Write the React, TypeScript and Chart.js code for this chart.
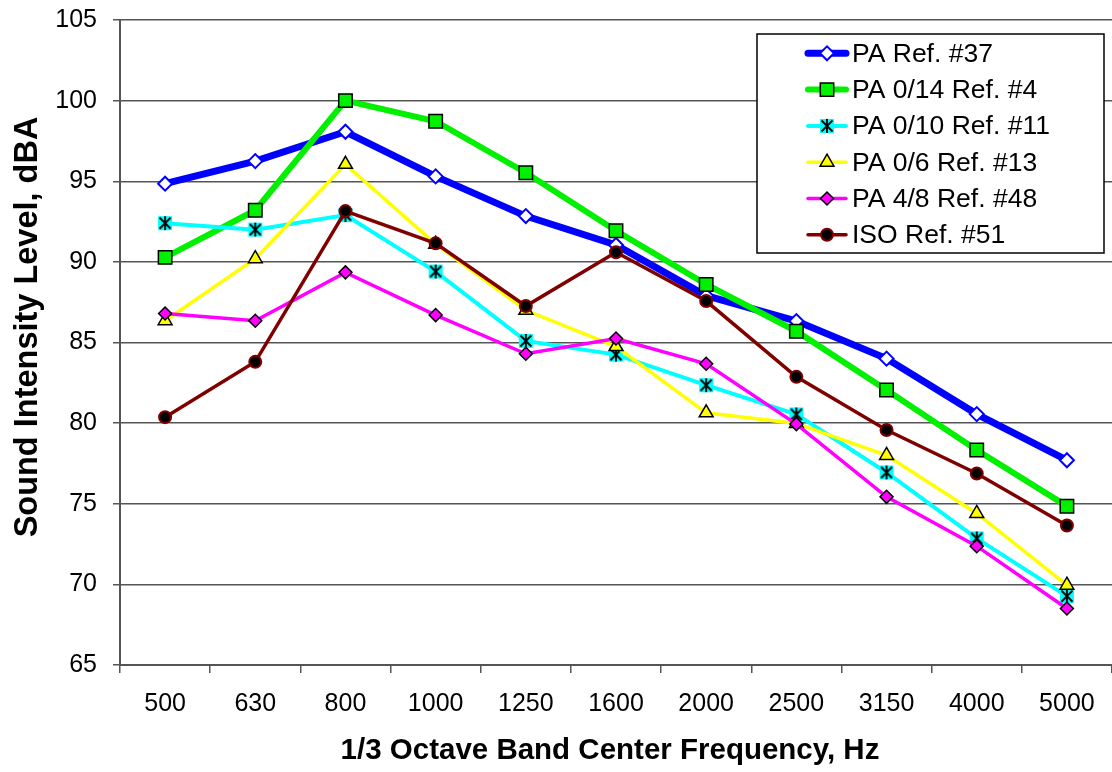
import React, { useEffect, useRef } from 'react';
import { Chart, registerables } from 'chart.js';
import { drawPoint } from 'chart.js/helpers';

Chart.register(...registerables);

const categories = ['500', '630', '800', '1000', '1250', '1600', '2000', '2500', '3150', '4000', '5000'];
const seriesLabels = ['PA Ref. #37', 'PA 0/14 Ref. #4', 'PA 0/10 Ref. #11', 'PA 0/6 Ref. #13', 'PA 4/8 Ref. #48', 'ISO Ref. #51'];
const paRef37 = [94.85, 96.25, 98.07, 95.3, 92.84, 91.05, 87.9, 86.33, 84.0, 80.56, 77.7];
const pa014Ref4 = [90.28, 93.2, 100.0, 98.72, 95.53, 91.93, 88.6, 85.7, 82.05, 78.33, 74.85];
const pa010Ref11 = [92.4, 92.0, 92.9, 89.4, 85.1, 84.25, 82.35, 80.54, 76.94, 72.85, 69.27];
const pa06Ref13 = [86.35, 90.2, 96.05, 91.1, 87.0, 84.75, 80.64, 79.98, 78.0, 74.4, 69.95];
const pa48Ref48 = [86.8, 86.35, 89.35, 86.7, 84.3, 85.25, 83.68, 79.94, 75.43, 72.37, 68.5];
const isoRef51 = [80.37, 83.8, 93.15, 91.15, 87.26, 90.6, 87.57, 82.87, 79.57, 76.88, 73.65];
const yMin = 65;
const yMax = 105;
const yStep = 5;
const xTitle = '1/3 Octave Band Center Frequency, Hz';
const yTitle = 'Sound Intensity Level, dBA';

const FONT = "'Liberation Sans', Arial, sans-serif";

function makeStarMarker(): HTMLCanvasElement {
  const c = document.createElement('canvas');
  c.width = 16;
  c.height = 16;
  const g = c.getContext('2d')!;
  g.fillStyle = '#00FFFF';
  g.fillRect(1, 1, 14, 14);
  g.strokeStyle = '#000';
  g.lineWidth = 1.8;
  g.beginPath();
  g.moveTo(8, 1);
  g.lineTo(8, 15);
  g.moveTo(2.5, 2.5);
  g.lineTo(13.5, 13.5);
  g.moveTo(13.5, 2.5);
  g.lineTo(2.5, 13.5);
  g.stroke();
  return c;
}

const legendPlugin = {
  id: 'boxLegend',
  afterDraw(chart: any) {
    const ctx = chart.ctx as CanvasRenderingContext2D;
    ctx.save();
    ctx.fillStyle = '#ffffff';
    ctx.fillRect(757, 34, 347, 219);
    ctx.strokeStyle = '#000';
    ctx.lineWidth = 1.5;
    ctx.strokeRect(757, 34, 347, 219);
    chart.data.datasets.forEach((ds: any, i: number) => {
      const y = 53.3 + i * 36.3;
      ctx.strokeStyle = ds.borderColor;
      ctx.lineWidth = ds.borderWidth;
      ctx.lineCap = 'round';
      ctx.beginPath();
      ctx.moveTo(808, y);
      ctx.lineTo(846, y);
      ctx.stroke();
      ctx.lineCap = 'butt';
      ctx.fillStyle = ds.pointBackgroundColor;
      ctx.strokeStyle = ds.pointBorderColor;
      ctx.lineWidth = ds.pointBorderWidth;
      drawPoint(ctx, { pointStyle: ds.pointStyle, radius: ds.pointRadius, borderWidth: ds.pointBorderWidth, rotation: 0 } as any, 827, y);
      ctx.fillStyle = '#000';
      ctx.font = `26.5px ${FONT}`;
      ctx.textBaseline = 'middle';
      ctx.textAlign = 'left';
      ctx.fillText(ds.label, 852, y + 1);
    });
    // x-axis title
    ctx.fillStyle = '#000';
    ctx.font = `bold 29.5px ${FONT}`;
    ctx.textAlign = 'center';
    ctx.textBaseline = 'middle';
    ctx.fillText(xTitle, 610, 751);
    // y-axis title
    ctx.translate(28, 327);
    ctx.rotate(-Math.PI / 2);
    ctx.font = `bold 32.5px ${FONT}`;
    ctx.fillText(yTitle, 0, 0);
    ctx.restore();
  },
};

export default function App() {
  const ref = useRef<HTMLCanvasElement>(null);
  useEffect(() => {
    const star = makeStarMarker();
    const chart = new Chart(ref.current!, {
      type: 'line',
      data: {
        labels: categories,
        datasets: [
          { label: seriesLabels[0], data: paRef37, borderColor: '#0000FF', borderWidth: 7, pointStyle: 'rectRot', pointRadius: 7, pointBackgroundColor: '#FFFFFF', pointBorderColor: '#0000FF', pointBorderWidth: 2, order: 5 },
          { label: seriesLabels[1], data: pa014Ref4, borderColor: '#00F000', borderWidth: 6, pointStyle: 'rect', pointRadius: 9.5, pointBackgroundColor: '#00F000', pointBorderColor: '#000000', pointBorderWidth: 1.5, order: 4 },
          { label: seriesLabels[2], data: pa010Ref11, borderColor: '#00FFFF', borderWidth: 4, pointStyle: star, pointRadius: 8, pointBackgroundColor: '#00FFFF', pointBorderColor: '#000000', pointBorderWidth: 1.5, order: 3 },
          { label: seriesLabels[3], data: pa06Ref13, borderColor: '#FFFF00', borderWidth: 3.5, pointStyle: 'triangle', pointRadius: 8, pointBackgroundColor: '#FFFF00', pointBorderColor: '#000000', pointBorderWidth: 1.5, order: 2 },
          { label: seriesLabels[4], data: pa48Ref48, borderColor: '#FF00FF', borderWidth: 3.5, pointStyle: 'rectRot', pointRadius: 6.5, pointBackgroundColor: '#FF00FF', pointBorderColor: '#000000', pointBorderWidth: 1.5, order: 1 },
          { label: seriesLabels[5], data: isoRef51, borderColor: '#800000', borderWidth: 3.5, pointStyle: 'circle', pointRadius: 6, pointBackgroundColor: '#000000', pointBorderColor: '#800000', pointBorderWidth: 2, order: 0 },
        ],
      },
      options: {
        responsive: false,
        animation: false,
        devicePixelRatio: 1,
        layout: { autoPadding: false, padding: { top: 20, right: -4, left: 0, bottom: 0 } },
        plugins: { legend: { display: false }, tooltip: { enabled: false } },
        elements: { line: { tension: 0 } },
        scales: {
          x: {
            type: 'category',
            offset: true,
            grid: { offset: true, drawOnChartArea: false, drawTicks: true, tickLength: 8, color: '#555', lineWidth: 1.5 },
            border: { color: '#555', width: 2 },
            ticks: { color: '#000', font: { family: FONT, size: 25, lineHeight: 2.48 }, padding: 0, maxRotation: 0, autoSkip: false },
            title: { display: false },
            afterFit: (s: any) => { s.height = 107; s.paddingLeft = 0; s.paddingRight = 0; },
          },
          y: {
            min: yMin,
            max: yMax,
            ticks: { stepSize: yStep, color: '#000', font: { family: FONT, size: 25, lineHeight: 0.1 }, padding: 16 },
            grid: { color: '#555', lineWidth: 1.5, tickLength: 7 },
            border: { color: '#555', width: 2 },
            title: { display: false },
            afterFit: (s: any) => { s.width = 120; s.paddingTop = 0; s.paddingBottom = 0; },
          },
        },
      },
      plugins: [legendPlugin],
    });
    return () => chart.destroy();
  }, []);
  return (
    <div style={{ position: 'absolute', left: 0, top: 0, width: 1112, height: 772, background: '#fff', overflow: 'hidden' }}>
      <canvas ref={ref} width={1112} height={772} style={{ width: 1112, height: 772, display: 'block' }} />
    </div>
  );
}
